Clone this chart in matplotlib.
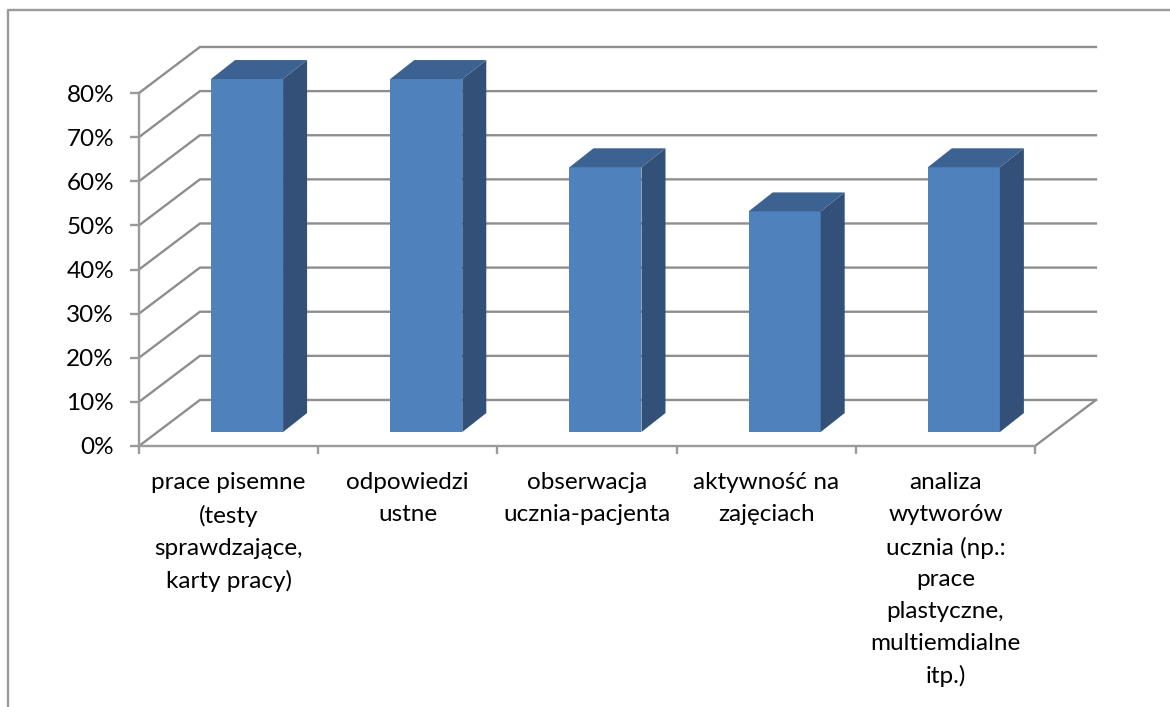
import matplotlib
matplotlib.use("Agg")
import matplotlib.pyplot as plt
from matplotlib.lines import Line2D
from matplotlib.patches import Polygon

categories = [
    "prace pisemne\n(testy\nsprawdzające,\nkarty pracy)",
    "odpowiedzi\nustne",
    "obserwacja\nucznia-pacjenta",
    "aktywność na\nzajęciach",
    "analiza\nwytworów\nucznia (np.:\nprace\nplastyczne,\nmultiemdialne\nitp.)",
]
values = [80, 80, 60, 50, 60]
y_ticks = [0, 10, 20, 30, 40, 50, 60, 70, 80]
y_labels = ["0%", "10%", "20%", "30%", "40%", "50%", "60%", "70%", "80%"]

GRID = "#8E8E8E"
AXIS = "#9A9A9A"
FRONT = "#4F81BD"
SIDE = "#325078"
TOP = "#3C6291"

W, H = 1170, 707
plt.rcParams["font.family"] = ["Lato", "DejaVu Sans"]
fig = plt.figure(figsize=(W / 100, H / 100), dpi=100, facecolor="white")
ax = fig.add_axes([139 / W, (H - 446) / H, 896 / W, 353 / H])
ax.set_xlim(0, len(values))
ax.set_ylim(0, 80)

# 3-D projection offsets, in data units
wall_dx, wall_dy = 0.340, 10.43
bar_dx, bar_dy = 0.134, 4.3
base_dy = 3.17  # bars stand inside the floor
bar_w = 0.402

# walls and floor
for v in y_ticks:
    ax.plot([0, wall_dx, len(values) + wall_dx], [v, v + wall_dy, v + wall_dy],
            color=GRID, lw=1.7, clip_on=False, zorder=1, solid_joinstyle="miter")
ax.plot([len(values), len(values) + wall_dx], [0, wall_dy],
        color=GRID, lw=1.7, clip_on=False, zorder=1)

# bars
xs = [i + 0.603 for i in range(len(values))]
ax.bar(xs, values, width=bar_w, bottom=base_dy, color=FRONT, zorder=3, clip_on=False)
for x, v in zip(xs, values):
    l, r = x - bar_w / 2, x + bar_w / 2
    b, t = base_dy, base_dy + v
    ax.add_patch(Polygon([(r, b), (r + bar_dx, b + bar_dy), (r + bar_dx, t + bar_dy), (r, t)],
                         closed=True, facecolor=SIDE, edgecolor="none", clip_on=False, zorder=3))
    ax.add_patch(Polygon([(l, t), (r, t), (r + bar_dx, t + bar_dy), (l + bar_dx, t + bar_dy)],
                         closed=True, facecolor=TOP, edgecolor="none", clip_on=False, zorder=3))

# axes
for s in ("top", "right"):
    ax.spines[s].set_visible(False)
for s in ("left", "bottom"):
    ax.spines[s].set_color(AXIS)
    ax.spines[s].set_linewidth(1.7)
ax.patch.set_visible(False)
ax.set_yticks(y_ticks)
ax.set_yticklabels(y_labels)
ax.tick_params(axis="y", length=6.5, width=1.7, color=AXIS, labelsize=17.5, pad=11.5, labelcolor="black")
ax.set_xticks(range(len(values) + 1))
ax.set_xticklabels([])
ax.tick_params(axis="x", which="major", length=6, width=1.7, color=AXIS)
ax.set_xticks([i + 0.5 for i in range(len(values))], minor=True)
ax.set_xticklabels(categories, minor=True, fontsize=17.5, linespacing=1.63,
                   multialignment="center")
ax.tick_params(axis="x", which="minor", length=0, pad=19, labelcolor="black")

# chart frame, cropped at the right and bottom
fig.add_artist(Line2D([8 / W, 8 / W, 1], [0, 1 - 10 / H, 1 - 10 / H],
                      color="#9A9A9A", lw=1.7, transform=fig.transFigure))

fig.savefig("out.png", dpi=100)
